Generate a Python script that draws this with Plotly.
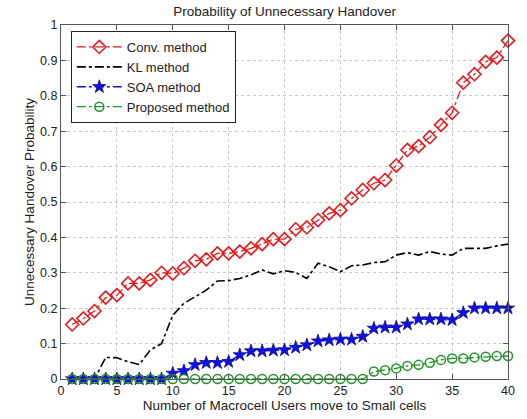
import plotly.graph_objects as go

# Number of macrocell users moving to small cells
users = list(range(1, 41))

conv_method = [0.154, 0.171, 0.192, 0.230, 0.237, 0.270, 0.270, 0.280, 0.300, 0.298,
               0.313, 0.334, 0.338, 0.355, 0.355, 0.360, 0.369, 0.381, 0.395, 0.395,
               0.423, 0.428, 0.449, 0.468, 0.477, 0.510, 0.534, 0.553, 0.562, 0.603,
               0.647, 0.658, 0.683, 0.718, 0.752, 0.837, 0.861, 0.896, 0.908, 0.956]

kl_method = [0.0, 0.0, 0.0, 0.061, 0.060, 0.049, 0.041, 0.082, 0.100, 0.180,
             0.214, 0.232, 0.251, 0.277, 0.278, 0.284, 0.294, 0.308, 0.297, 0.306,
             0.301, 0.284, 0.327, 0.317, 0.303, 0.320, 0.322, 0.329, 0.331, 0.350,
             0.357, 0.350, 0.360, 0.353, 0.350, 0.369, 0.369, 0.369, 0.376, 0.381]

soa_method = [0.0, 0.0, 0.0, 0.0, 0.0, 0.0, 0.0, 0.0, 0.0, 0.016,
              0.023, 0.040, 0.046, 0.046, 0.049, 0.068, 0.079, 0.079, 0.081, 0.082,
              0.089, 0.096, 0.107, 0.110, 0.112, 0.112, 0.120, 0.143, 0.146, 0.146,
              0.155, 0.169, 0.169, 0.169, 0.167, 0.187, 0.200, 0.200, 0.200, 0.200]

proposed_method = [0.0] * 27 + [0.021, 0.025, 0.030, 0.037, 0.040, 0.046, 0.054,
                                0.058, 0.058, 0.061, 0.063, 0.065, 0.065]

FONT = "Liberation Sans, Arial, sans-serif"
TXT = "#222222"

fig = go.Figure()

fig.add_trace(go.Scatter(
    x=users, y=conv_method, name="Conv. method", mode="lines+markers",
    line=dict(color="#e8181c", width=1.3, dash="dashdot"),
    marker=dict(symbol="diamond-open", size=10, color="#e8181c",
                line=dict(width=1.6, color="#e8181c")),
    cliponaxis=False,
))
fig.add_trace(go.Scatter(
    x=users, y=kl_method, name="KL method", mode="lines",
    line=dict(color="black", width=1.6, dash="dashdot"),
    cliponaxis=False,
))
fig.add_trace(go.Scatter(
    x=users, y=soa_method, name="SOA method", mode="lines+markers",
    line=dict(color="#1010e0", width=1.3, dash="dashdot"),
    marker=dict(symbol="star", size=10, color="#1010e0",
                line=dict(width=0.8, color="#0a0a9a")),
    cliponaxis=False,
))
fig.add_trace(go.Scatter(
    x=users, y=proposed_method, name="Proposed method", mode="lines+markers",
    line=dict(color="#23922a", width=1.3, dash="dashdot"),
    marker=dict(symbol="circle-open", size=9, color="#23922a",
                line=dict(width=1.5, color="#23922a")),
    cliponaxis=False,
))

axis_common = dict(
    showline=True, linecolor="#555555", linewidth=1, mirror="ticks",
    ticks="inside", ticklen=5, tickcolor="#555555",
    showgrid=True, gridcolor="#c8c8c8", griddash="dot", gridwidth=1,
    zeroline=False, automargin=False,
    tickfont=dict(family=FONT, size=12.5, color=TXT),
)

fig.update_layout(
    width=527, height=419, autosize=False,
    margin=dict(l=61, r=19, t=25, b=40),
    paper_bgcolor="white", plot_bgcolor="white",
    font=dict(family=FONT, size=13, color=TXT),
    title=dict(text="Probability of Unnecessary Handover", x=0.54, xanchor="center",
               y=0.972, yanchor="middle", font=dict(family=FONT, size=13.5, color=TXT)),
    xaxis=dict(range=[0, 40], dtick=5, tick0=0,
               title=dict(text="Number of Macrocell Users move to Small cells",
                          standoff=0, font=dict(family=FONT, size=13.5, color=TXT)),
               **axis_common),
    yaxis=dict(range=[0, 1], dtick=0.1, tick0=0,
               title=dict(text="Unnecessary Handover Probability",
                          standoff=2, font=dict(family=FONT, size=13.5, color=TXT)),
               **axis_common),
    legend=dict(x=0.022, y=0.983, xanchor="left", yanchor="top",
                bgcolor="white", bordercolor=TXT, borderwidth=1,
                font=dict(family=FONT, size=13, color=TXT),
                itemwidth=45, tracegroupgap=0),
    showlegend=True,
)

fig.write_html("out.html")
